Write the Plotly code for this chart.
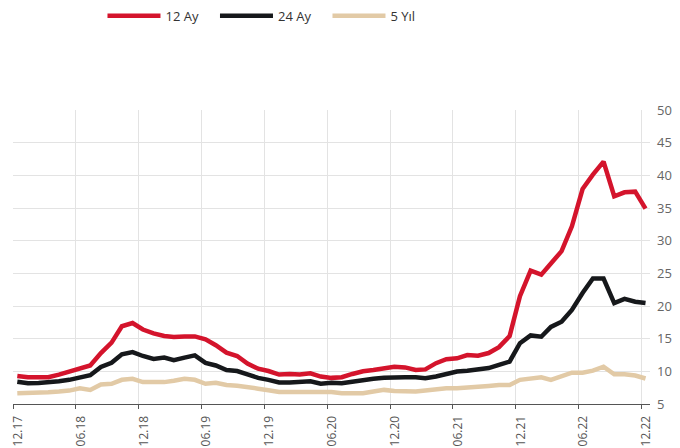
import plotly.graph_objects as go
import pandas as pd

_month_starts = pd.date_range("2017-12-01", periods=61, freq="MS")
months = [pd.Timestamp(d.year, d.month, 13) for d in _month_starts]

tick_labels = ["12.17", "06.18", "12.18", "06.19", "12.19", "06.20",
               "12.20", "06.21", "12.21", "06.22", "12.22"]
tick_dates = ["2017-12-01", "2018-06-01", "2018-12-01", "2019-06-01", "2019-12-01", "2020-06-01",
              "2020-12-01", "2021-06-01", "2021-12-01", "2022-06-01", "2022-12-01"]

ay12 = [9.3, 9.1, 9.1, 9.1, 9.5, 10.0, 10.4, 10.9, 12.8, 14.4, 16.9, 17.4,
        16.4, 15.8, 15.4, 15.25, 15.35, 15.35, 14.9, 14.0, 12.85, 12.35, 11.2, 10.4,
        10.05, 9.5, 9.6, 9.5, 9.7, 9.2, 9.0, 9.1, 9.6, 10.0, 10.2, 10.5,
        10.7, 10.6, 10.2, 10.3, 11.25, 11.85, 12.0, 12.5, 12.4, 12.8, 13.7, 15.4,
        21.5, 25.4, 24.8, 26.5, 28.4, 32.2, 37.9, 40.1, 42.1, 36.8, 37.4, 37.5, 34.9]

ay24 = [8.4, 8.17, 8.2, 8.27, 8.47, 8.7, 9.0, 9.4, 10.66, 11.3, 12.6, 12.95,
        12.35, 11.9, 12.1, 11.7, 12.1, 12.45, 11.3, 10.9, 10.2, 10.05, 9.54, 9.0,
        8.7, 8.3, 8.3, 8.3, 8.47, 8.1, 8.25, 8.18, 8.44, 8.7, 8.85, 9.0,
        9.1, 9.1, 9.1, 8.95, 9.2, 9.6, 9.97, 10.1, 10.3, 10.5, 11.0, 11.5,
        14.3, 15.5, 15.3, 16.8, 17.6, 19.4, 22.0, 24.2, 24.2, 20.45, 21.1, 20.65, 20.45]

yil5 = [6.64, 6.64, 6.7, 6.8, 6.9, 7.05, 7.4, 7.15, 8.0, 8.1, 8.7, 8.85,
        8.35, 8.35, 8.35, 8.55, 8.85, 8.7, 8.1, 8.25, 7.9, 7.8, 7.65, 7.35,
        7.1, 6.84, 6.84, 6.84, 6.95, 6.84, 6.84, 6.65, 6.65, 6.65, 6.9, 7.16,
        7.0, 6.9, 6.9, 7.05, 7.26, 7.4, 7.4, 7.57, 7.67, 7.77, 7.9, 7.9,
        8.7, 8.95, 9.1, 8.7, 9.2, 9.8, 9.8, 10.1, 10.7, 9.55, 9.55, 9.35, 8.9]

series = [("12 Ay", ay12, "#D4142C"), ("24 Ay", ay24, "#16181b"), ("5 Yıl", yil5, "#E2CAA6")]

fig = go.Figure()
for name, vals, color in series:
    fig.add_trace(go.Scatter(x=months, y=vals, name=name, mode="lines",
                             line=dict(color=color, width=4.5)))

# page body has an 8px margin, so the figure is sized to fit the 680x448 window
fig.update_layout(
    width=672, height=440,
    margin=dict(l=5, r=30, t=102, b=44, autoexpand=False),
    paper_bgcolor="white", plot_bgcolor="white",
    font=dict(family="Open Sans", color="#555555", size=12),
    showlegend=True,
    legend=dict(orientation="h", xref="container", yref="container",
                x=0.1406, xanchor="left", y=0.982, yanchor="middle",
                font=dict(size=13, color="#333333"), itemwidth=53,
                entrywidth=44.5, entrywidthmode="pixels",
                traceorder="normal"),
    xaxis=dict(
        range=["2017-11-30 12:00", "2022-12-26"], automargin=False,
        tickvals=tick_dates, ticktext=tick_labels, tickangle=-90,
        ticklabeloverflow="allow", ticklabelshift=5, ticklabelstandoff=2,
        showgrid=True, gridcolor="#e3e3e3", gridwidth=1,
        showline=True, linecolor="#555555", linewidth=1,
        ticks="outside", ticklen=4, tickcolor="#555555",
        zeroline=False, tickfont=dict(size=12, color="#555555"),
    ),
    yaxis=dict(
        range=[5, 50], side="right", dtick=5, tick0=5, automargin=False,
        showgrid=True, gridcolor="#e3e3e3", gridwidth=1,
        zeroline=False, showline=False,
        ticks="", ticklabelstandoff=6,
        tickfont=dict(size=13, color="#666666"),
    ),
)

fig.write_html("out.html")
